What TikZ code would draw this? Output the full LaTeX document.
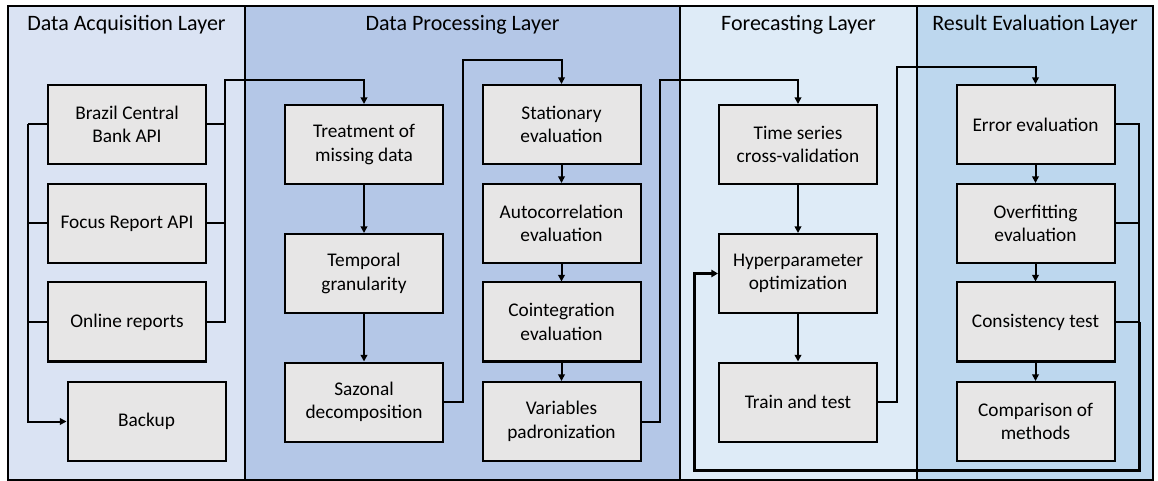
\documentclass[tikz,border=0pt]{standalone}
\usepackage{fontspec}
\setmainfont{Carlito}
\usetikzlibrary{arrows.meta}

\definecolor{acqfill}{HTML}{DAE3F3}
\definecolor{procfill}{HTML}{B4C7E7}
\definecolor{forefill}{HTML}{DEEBF7}
\definecolor{evalfill}{HTML}{BDD7EE}
\definecolor{stagefill}{HTML}{E7E6E6}

\begin{document}
\begin{tikzpicture}[x=0.75pt, y=-0.75pt,
    layer/.style={draw=black, line width=1pt},
    layertitle/.style={font=\fontsize{16.5}{20}\selectfont},
    stage/.style={draw=black, line width=1.5pt, fill=stagefill, minimum width=118.5pt,
      minimum height=59.25pt, inner sep=0pt, align=center, font=\fontsize{14.5}{17.5}\selectfont},
    link/.style={line width=1.5pt, -{Triangle[width=5pt,length=5pt]}},
    plainlink/.style={line width=1.5pt},
    feedback/.style={line width=2.25pt, -{Triangle[width=5.5pt,length=5pt]}}]
    \useasboundingbox (0,0) rectangle (1158,481);

    % Layers
    \draw[layer, fill=acqfill]  (8,6) rectangle (245,480);
    \draw[layer, fill=procfill] (245,6) rectangle (680,480);
    \draw[layer, fill=forefill] (680,6) rectangle (917,480);
    \draw[layer, fill=evalfill] (917,6) rectangle (1153,480);
    \node[layertitle] (tacq)  at (126.5,25) {Data Acquisition Layer};
    \node[layertitle] (tproc) at (462.5,25) {Data Processing Layer};
    \node[layertitle] (tfore) at (798.5,25) {Forecasting Layer};
    \node[layertitle] (teval) at (1035,25) {Result Evaluation Layer};

    % Data acquisition
    \node[stage] (bcb)    at (127,124.5)   {Brazil Central\\Bank API};
    \node[stage] (focus)  at (127,223.5)   {Focus Report API};
    \node[stage] (online) at (127,322)     {Online reports};
    \node[stage] (backup) at (146.5,421.5) {Backup};

    % Data processing
    \node[stage] (missing)  at (364,144.5) {Treatment of\\missing data};
    \node[stage] (granul)   at (364,273.5) {Temporal\\granularity};
    \node[stage] (sazonal)  at (364,402)   {Sazonal\\decomposition};
    \node[stage] (station)  at (561.5,124.5) {Stationary\\evaluation};
    \node[stage] (autocorr) at (561.5,223.5) {Autocorrelation\\evaluation};
    \node[stage] (coint)    at (561.5,322)   {Cointegration\\evaluation};
    \node[stage] (padron)   at (561.5,421.5) {Variables\\padronization};

    % Forecasting
    \node[stage] (crossval) at (798,144.5) {Time series\\cross-validation};
    \node[stage] (hyper)    at (798,273.5) {Hyperparameter\\optimization};
    \node[stage] (traintest) at (798,402)  {Train and test};

    % Result evaluation
    \node[stage] (error)   at (1035.5,124.5) {Error evaluation};
    \node[stage] (overfit) at (1035.5,223.5) {Overfitting\\evaluation};
    \node[stage] (consist) at (1035.5,322)   {Consistency test};
    \node[stage] (compare) at (1035.5,421.5) {Comparison of\\methods};

    % Bends of the long connectors
    \coordinate (backbus) at (28,124.5);
    \coordinate (outbus)  at (225,80);
    \coordinate (hop1) at (463,60);
    \coordinate (hop2) at (660,80);
    \coordinate (hop3) at (897,67);
    \coordinate (fbtop)   at (1139,124.5);
    \coordinate (fbmid)   at (1139,322);
    \coordinate (fbright) at (1139,470);
    \coordinate (fbleft)  at (694,470);

    % Acquisition to backup and to processing
    \draw[plainlink] (bcb.west) -- (backbus);
    \draw[plainlink] (focus.west) -- (focus.west -| backbus);
    \draw[plainlink] (online.west) -- (online.west -| backbus);
    \draw[link] (backbus) |- (backup.west);
    \draw[plainlink] (bcb.east) -- (bcb.east -| outbus);
    \draw[plainlink] (focus.east) -- (focus.east -| outbus);
    \draw[link] (online.east) -| (outbus) -| (missing.north);

    % Processing chain
    \draw[link] (missing) -- (granul);
    \draw[link] (granul) -- (sazonal);
    \draw[link] (sazonal.east) -| (hop1) -| (station.north);
    \draw[link] (station) -- (autocorr);
    \draw[link] (autocorr) -- (coint);
    \draw[link] (coint) -- (padron);
    \draw[link] (padron.east) -| (hop2) -| (crossval.north);

    % Forecasting chain
    \draw[link] (crossval) -- (hyper);
    \draw[link] (hyper) -- (traintest);
    \draw[link] (traintest.east) -| (hop3) -| (error.north);

    % Evaluation chain and feedback
    \draw[link] (error) -- (overfit);
    \draw[link] (overfit) -- (consist);
    \draw[link] (consist) -- (compare);
    \draw[plainlink] (error.east) -- (fbtop) -- (fbmid);
    \draw[plainlink] (overfit.east) -- (overfit.east -| fbright);
    \draw[plainlink] (consist.east) -- (fbmid);
    \draw[feedback] (fbmid) -- (fbright) -- (fbleft) |- (hyper.west);
\end{tikzpicture}
\end{document}
